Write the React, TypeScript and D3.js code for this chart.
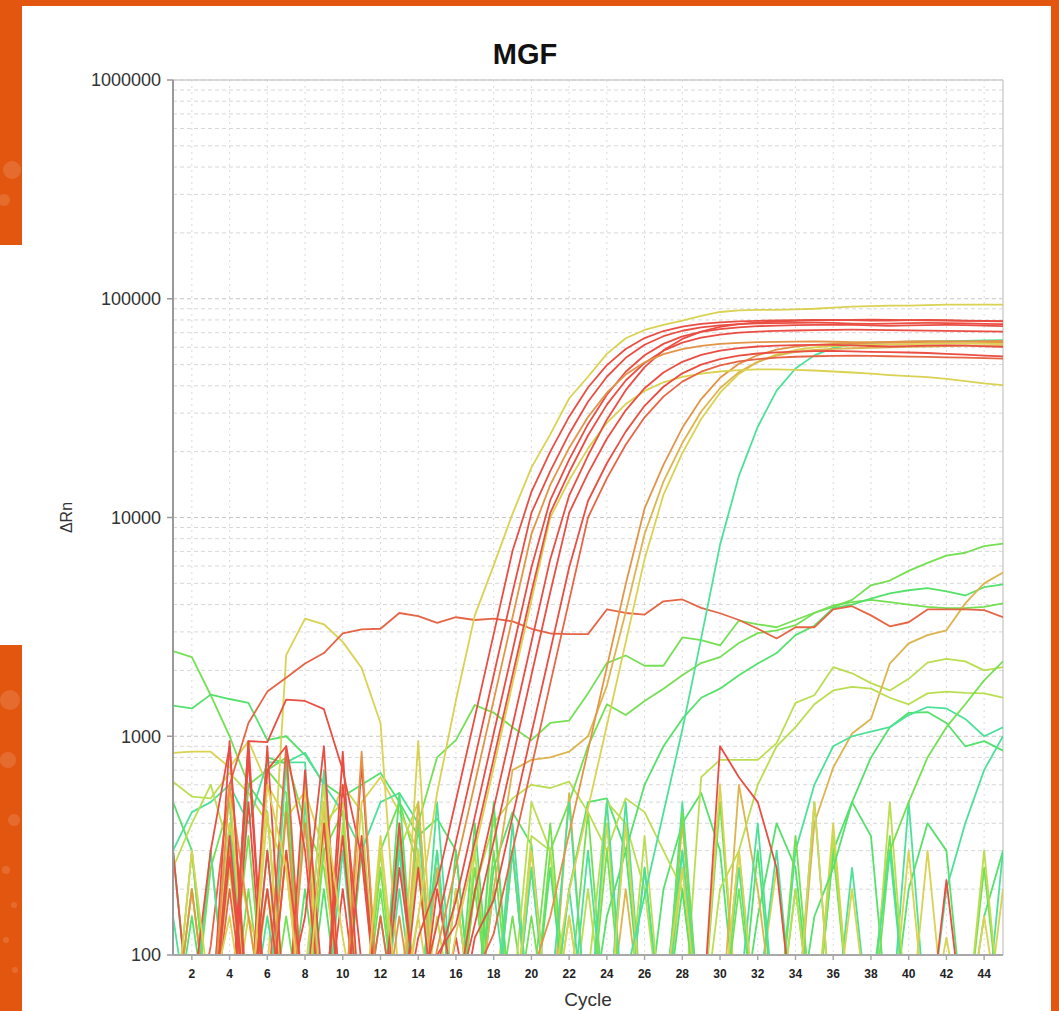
import React from "react";
import * as d3 from "d3";

// cycle numbers on the x axis
const cycles = [
  1, 2, 3, 4, 5, 6, 7, 8, 9, 10, 11, 12, 13, 14, 15, 16, 17, 18, 19, 20, 21, 22, 23,
  24, 25, 26, 27, 28, 29, 30, 31, 32, 33, 34, 35, 36, 37, 38, 39, 40, 41, 42, 43, 44, 45,
];
const xTicks = [2, 4, 6, 8, 10, 12, 14, 16, 18, 20, 22, 24, 26, 28, 30, 32, 34, 36, 38, 40, 42, 44];
const yTicks = [100, 1000, 10000, 100000, 1000000];
const yTickLabels = ["100", "1000", "10000", "100000", "1000000"];

// amplified wells (delta Rn per cycle)
const ampYellowTop = [
  40, 300, 60, 150, 40, 600, 250, 40, 500, 120, 40, 350, 50, 150, 550,
  1460, 3570, 6040, 10400, 16900, 24000, 35000, 44000, 56000, 66000, 72000, 76000, 79500, 83500, 87000,
  88500, 89000, 89000, 89500, 90000, 91000, 92000, 92500, 93000, 93000, 93500, 94000, 94000, 94000, 94000,
];
const ampRedA = [
  40, 60, 300, 900, 50, 200, 40, 700, 60, 350, 40, 80, 40, 120, 213,
  510, 1220, 2930, 7040, 13100, 20000, 28900, 39300, 49700, 58900, 66100, 71200, 74600, 76700, 78000,
  78800, 79300, 79600, 79800, 80000, 80000, 79800, 79500, 79500, 79800, 80000, 79800, 79500, 79200, 79000,
];
const ampRedB = [
  50, 40, 70, 40, 950, 40, 300, 60, 40, 600, 90, 40, 250, 60, 138,
  330, 790, 1900, 4550, 10500, 16300, 24100, 33800, 44000, 53700, 61600, 67400, 71400, 74000, 75600,
  76500, 77100, 77400, 77600, 77700, 77500, 77000, 76800, 77000, 77300, 77500, 77400, 77100, 76800, 76500,
];
const ampOrangeA = [
  40, 200, 40, 600, 150, 40, 450, 40, 80, 40, 850, 40, 150, 40, 106,
  254, 608, 1460, 3500, 8390, 14100, 20800, 28800, 37200, 45000, 51200, 55800, 58900, 60900, 62200,
  62900, 63300, 63500, 63700, 63800, 63600, 63400, 63300, 63500, 63800, 64000, 63900, 63700, 63500, 63300,
];
const ampRedC = [
  300, 40, 50, 40, 500, 40, 60, 150, 900, 40, 60, 40, 400, 40, 90,
  178, 428, 1030, 2460, 5910, 12000, 18400, 26700, 36400, 46400, 55200, 62200, 67300, 70600, 72700,
  74000, 74900, 75400, 75800, 76000, 76200, 76000, 75600, 75200, 75500, 75800, 75900, 75700, 75300, 75000,
];
const ampRedD = [
  40, 100, 40, 350, 40, 700, 900, 300, 40, 200, 40, 60, 40, 250, 40,
  60, 195, 468, 1120, 2690, 6450, 12600, 19200, 28000, 38200, 48700, 58100, 65500, 70800, 74300,
  76500, 77900, 78700, 79200, 79600, 79800, 80000, 80200, 80100, 79800, 79600, 79400, 79200, 79000, 78800,
];
const ampRedE = [
  60, 40, 40, 950, 40, 300, 40, 80, 40, 850, 40, 60, 40, 40, 200,
  60, 138, 330, 790, 1900, 4550, 10500, 15900, 22900, 30900, 39000, 46000, 51500, 55400, 57900,
  59500, 60500, 61100, 61400, 61600, 61500, 61200, 60800, 60500, 60700, 61000, 61200, 61000, 60600, 60300,
];
const ampRedF = [
  40, 60, 40, 40, 800, 40, 100, 40, 60, 40, 350, 40, 90, 40, 60,
  40, 120, 178, 428, 1030, 2460, 5910, 11900, 17700, 24700, 32400, 39600, 45600, 50000, 53000,
  54900, 56200, 56900, 57300, 57600, 57800, 57500, 57200, 57000, 56800, 56500, 56000, 55500, 55000, 54500,
];
const ampOrangeRed = [
  90, 40, 40, 200, 40, 60, 900, 40, 80, 40, 40, 150, 40, 60, 40,
  50, 80, 125, 300, 720, 1740, 4170, 10000, 15100, 21500, 28700, 35700, 41800, 46400, 49600,
  51700, 53000, 53800, 54300, 54600, 54800, 55000, 54800, 54600, 54400, 54200, 54000, 53800, 53500, 53200,
];
const ampYellowLow = [
  40, 80, 40, 600, 40, 450, 40, 80, 600, 40, 40, 70, 40, 150, 40,
  125, 300, 720, 1740, 4170, 10000, 14800, 20700, 27100, 33000, 37900, 41500, 43900, 45500, 46500,
  47200, 47500, 47500, 47300, 47000, 46500, 46000, 45500, 44800, 44300, 43800, 43000, 42000, 41000, 40300,
];
const ampRedG = [
  40, 50, 40, 280, 40, 900, 40, 60, 400, 40, 750, 40, 60, 40, 100,
  138, 330, 790, 1900, 4550, 10500, 16100, 23700, 32800, 42300, 50900, 57900, 63000, 66400, 68600,
  70000, 70800, 71300, 71600, 71800, 72000, 72200, 72100, 71900, 71700, 71500, 71300, 71100, 70900, 70700,
];
const lateOrange = [
  40, 60, 40, 300, 40, 80, 40, 400, 40, 100, 40, 60, 40, 40, 90,
  40, 50, 40, 60, 80, 150, 360, 862, 2070, 4960, 11000, 17400, 25700, 34800, 43500,
  50400, 55300, 58500, 60400, 61500, 62200, 62600, 62800, 63000, 63200, 63500, 63600, 63800, 64000, 64200,
];
const lateYellowA = [
  40, 40, 100, 40, 60, 40, 300, 40, 80, 40, 40, 60, 40, 500, 40,
  80, 40, 200, 700, 780, 800, 850, 1000, 1700, 3700, 8400, 14600, 21900, 30500, 39000,
  46200, 51500, 55000, 57100, 58300, 59000, 59400, 59700, 60000, 60200, 60500, 60700, 61000, 61200, 61400,
];
const lateYellowB = [
  40, 80, 40, 40, 150, 40, 40, 600, 40, 40, 90, 40, 40, 950, 40,
  60, 40, 40, 70, 40, 60, 195, 468, 1120, 2690, 6450, 12700, 19700, 28200, 37200,
  45300, 51500, 55700, 58300, 59900, 60800, 61300, 61600, 61800, 62000, 62200, 62300, 62400, 62500, 62600,
];
const lateGreen = [
  60, 40, 300, 40, 40, 150, 40, 500, 40, 40, 80, 40, 300, 40, 40,
  60, 40, 200, 40, 40, 60, 500, 40, 40, 80, 186, 447, 1070, 2800, 7500,
  15500, 26000, 38000, 48000, 55100, 59600, 61900, 62800, 63300, 63600, 63800, 64000, 64200, 64500, 64700,
];

// non-amplified / background wells
const driftRed = [
  40, 40, 110, 600, 1150, 1600, 1850, 2150, 2400, 2950, 3080, 3100, 3660, 3540, 3300,
  3500, 3400, 3450, 3350, 3100, 2950, 2930, 2930, 3800, 3660, 3600, 4140, 4220, 3860, 3650,
  3400, 3100, 2800, 3150, 3150, 3800, 3930, 3570, 3180, 3320, 3800, 3800, 3800, 3770, 3500,
];
const humpYellow = [
  40, 200, 40, 400, 150, 80, 2350, 3450, 3250, 2700, 2050, 1150, 70, 300, 40,
  200, 40, 60, 40, 300, 40, 150, 40, 40, 400, 40, 60, 250, 40, 40,
  300, 40, 60, 40, 500, 40, 200, 40, 60, 40, 300, 40, 40, 150, 40,
];
const highStartGreen = [
  2450, 2300, 1540, 1000, 600, 700, 800, 400, 250, 60, 40, 300, 500, 250, 40,
  60, 40, 300, 40, 150, 40, 60, 450, 40, 40, 250, 40, 60, 40, 500,
  40, 60, 40, 200, 40, 300, 40, 60, 350, 40, 40, 80, 40, 250, 40,
];
const midStartGreen = [
  1380, 1340, 1550, 1480, 1420, 960, 1000, 820, 610, 530, 600, 680, 500, 350, 420,
  300, 40, 250, 450, 320, 40, 200, 500, 520, 300, 40, 200, 400, 550, 300,
  40, 150, 400, 250, 40, 300, 500, 350, 40, 200, 400, 300, 40, 150, 300,
];
const humpRed = [
  40, 40, 60, 40, 950, 940, 1470, 1450, 1330, 700, 280, 40, 60, 40, 40,
  120, 40, 60, 40, 40, 100, 40, 40, 60, 40, 40, 40, 40, 40, 900,
  650, 500, 250, 40, 40, 40, 60, 40, 40, 40, 40, 220, 40, 40, 40,
];
const flatYellow = [
  840, 850, 850, 720, 950, 600, 420, 560, 300, 40, 500, 650, 450, 300, 40,
  200, 40, 60, 300, 40, 40, 150, 40, 400, 40, 60, 40, 250, 40, 600,
  40, 60, 250, 40, 40, 400, 40, 60, 40, 300, 40, 120, 40, 40, 200,
];
const riseYellowGreen = [
  620, 530, 520, 680, 550, 400, 250, 40, 350, 600, 450, 40, 300, 500, 40,
  80, 40, 450, 40, 350, 300, 40, 80, 500, 400, 200, 40, 40, 650, 780,
  780, 780, 930, 1420, 1540, 2070, 1940, 1750, 1620, 1830, 2170, 2260, 2200, 2000, 2070,
];
const riseGreenA = [
  300, 40, 250, 500, 40, 700, 550, 40, 300, 450, 40, 200, 40, 400, 800,
  960, 1390, 1280, 1100, 960, 1150, 1180, 1570, 2160, 2340, 2100, 2100, 2830, 2750, 2600,
  3380, 3250, 3150, 3400, 3670, 3960, 4100, 4200, 4100, 4000, 3900, 3850, 3850, 3900, 4050,
];
const riseGreenB = [
  40, 200, 40, 60, 350, 40, 150, 40, 500, 40, 40, 250, 40, 60, 300,
  40, 200, 40, 150, 40, 300, 500, 900, 1400, 1250, 1450, 1650, 1900, 2160, 2300,
  2670, 2960, 3050, 3220, 3660, 3900, 4200, 4900, 5150, 5700, 6200, 6700, 6900, 7400, 7600,
];
const riseGreenC = [
  500, 300, 40, 40, 600, 450, 40, 200, 40, 40, 300, 40, 550, 40, 80,
  40, 400, 40, 40, 250, 40, 60, 40, 150, 300, 600, 900, 1200, 1500, 1650,
  1900, 2150, 2400, 2900, 3200, 3850, 4000, 4260, 4500, 4650, 4750, 4600, 4400, 4800, 4950,
];
const riseOrangeLate = [
  40, 40, 300, 40, 60, 200, 40, 40, 500, 40, 40, 100, 40, 40, 250,
  40, 60, 40, 300, 40, 40, 550, 40, 40, 200, 40, 40, 400, 40, 40,
  600, 200, 40, 40, 400, 720, 1030, 1200, 2150, 2660, 2900, 3050, 4050, 5000, 5600,
];
const riseYellowGreenB = [
  250, 400, 600, 300, 40, 200, 40, 60, 400, 500, 40, 300, 40, 40, 150,
  40, 300, 40, 60, 500, 300, 40, 200, 40, 40, 350, 40, 60, 40, 200,
  300, 600, 900, 1100, 1400, 1620, 1680, 1650, 1500, 1400, 1570, 1600, 1580, 1570, 1500,
];
const lateGreenD = [
  40, 150, 40, 300, 40, 800, 750, 40, 200, 40, 60, 40, 350, 40, 40,
  300, 40, 500, 40, 40, 250, 40, 60, 40, 400, 40, 40, 200, 40, 60,
  40, 300, 40, 40, 150, 250, 500, 800, 1100, 1280, 1290, 1150, 900, 950, 860,
];
const lateTealA = [
  150, 40, 60, 400, 40, 40, 760, 760, 40, 300, 40, 40, 200, 40, 500,
  40, 60, 40, 300, 40, 40, 200, 40, 500, 40, 40, 60, 300, 40, 40,
  250, 40, 40, 300, 600, 900, 1000, 1050, 1100, 1250, 1360, 1340, 1200, 1000, 1100,
];
const lateGreenE = [
  40, 300, 40, 40, 200, 40, 500, 40, 40, 80, 40, 40, 400, 40, 60,
  40, 250, 40, 40, 60, 400, 40, 40, 300, 40, 60, 40, 450, 40, 40,
  200, 40, 40, 350, 40, 60, 40, 40, 300, 500, 800, 1100, 1400, 1800, 2200,
];
const lateTealB = [
  300, 40, 40, 100, 40, 300, 40, 60, 700, 40, 40, 150, 40, 40, 300,
  40, 40, 60, 40, 250, 40, 40, 60, 40, 500, 40, 40, 300, 40, 40,
  60, 400, 40, 40, 500, 40, 40, 60, 300, 40, 40, 200, 400, 700, 1000,
];
const earlyGreen = [
  300, 450, 500, 600, 400, 760, 760, 840, 600, 450, 300, 500, 550, 400, 40,
  200, 40, 40, 400, 40, 60, 40, 300, 40, 40, 250, 40, 500, 40, 40,
  40, 60, 300, 40, 40, 40, 250, 40, 40, 500, 40, 40, 60, 40, 300,
];
const wanderYellowGreen = [
  40, 60, 40, 250, 40, 40, 300, 40, 40, 400, 40, 60, 40, 300, 40,
  40, 200, 400, 520, 600, 580, 620, 450, 300, 520, 450, 300, 200, 40, 40,
  300, 40, 40, 200, 40, 350, 40, 40, 500, 40, 40, 60, 40, 300, 40,
];

const RED = "#e8362a";
const RED2 = "#e4502c";
const ORANGE = "#e0862e";
const YORANGE = "#d9aa36";
const YELLOW = "#d6cc3a";
const YGREEN = "#b2da3a";
const GREEN = "#62dc3c";
const GREEN2 = "#3ede58";
const TEAL = "#34de8c";

const backgroundSeries = [
  { values: highStartGreen, color: GREEN },
  { values: midStartGreen, color: GREEN2 },
  { values: flatYellow, color: YELLOW },
  { values: riseYellowGreen, color: YGREEN },
  { values: earlyGreen, color: TEAL },
  { values: wanderYellowGreen, color: YGREEN },
  { values: riseGreenA, color: GREEN },
  { values: riseGreenB, color: GREEN },
  { values: riseGreenC, color: GREEN2 },
  { values: riseOrangeLate, color: YORANGE },
  { values: riseYellowGreenB, color: YGREEN },
  { values: lateGreenD, color: GREEN2 },
  { values: lateTealA, color: TEAL },
  { values: lateGreenE, color: GREEN },
  { values: lateTealB, color: TEAL },
  { values: humpYellow, color: YELLOW },
  { values: humpRed, color: RED },
  { values: driftRed, color: RED2 },
];

const amplifiedSeries = [
  { values: lateGreen, color: TEAL },
  { values: lateYellowB, color: YELLOW },
  { values: lateYellowA, color: YORANGE },
  { values: lateOrange, color: ORANGE },
  { values: ampYellowLow, color: YELLOW },
  { values: ampOrangeRed, color: RED2 },
  { values: ampRedF, color: RED },
  { values: ampRedE, color: RED },
  { values: ampRedG, color: RED },
  { values: ampRedD, color: RED },
  { values: ampRedC, color: RED },
  { values: ampOrangeA, color: ORANGE },
  { values: ampRedB, color: RED },
  { values: ampRedA, color: RED },
  { values: ampYellowTop, color: YELLOW },
];

const W = 1059;
const H = 1011;
const M = { left: 173, right: 1003, top: 80, bottom: 955 };
const FONT = "'Liberation Sans', Arial, sans-serif";

export default function App() {
  const x = d3.scaleLinear().domain([1, 45]).range([M.left, M.right]);
  const y = d3.scaleLog().domain([100, 1000000]).range([M.bottom, M.top]);
  const line = d3
    .line<number>()
    .x((_, i) => x(cycles[i]))
    .y((v) => y(v));
  const gridValues = y.ticks();

  return (
    <svg
      width={W}
      height={H}
      style={{ position: "absolute", left: 0, top: 0 }}
      fontFamily={FONT}
    >
      <defs>
        <clipPath id="plotClip">
          <rect x={M.left} y={M.top} width={M.right - M.left} height={M.bottom - M.top} />
        </clipPath>
      </defs>

      {/* page frame */}
      <rect width={W} height={H} fill="#e2560f" />
      <rect x={22} y={6} width={1029} height={H - 6} fill="#ffffff" />
      <rect x={0} y={245} width={22} height={400} fill="#ffffff" />
      <g fill="#ffffff" opacity={0.13}>
        <circle cx={12} cy={170} r={9} />
        <circle cx={4} cy={200} r={6} />
        <circle cx={10} cy={700} r={10} />
        <circle cx={8} cy={760} r={8} />
        <circle cx={14} cy={820} r={6} />
        <circle cx={6} cy={870} r={4} />
        <circle cx={14} cy={905} r={3} />
        <circle cx={6} cy={940} r={3} />
        <circle cx={15} cy={970} r={3} />
      </g>

      {/* grid */}
      <g>
        {gridValues.map((v) => (
          <line
            key={"gy" + v}
            x1={M.left}
            x2={M.right}
            y1={y(v)}
            y2={y(v)}
            stroke={yTicks.includes(v) ? "#c6c6c6" : "#d8d8d8"}
            strokeDasharray="4,3"
          />
        ))}
        {xTicks.map((c) => (
          <line
            key={"gx" + c}
            x1={x(c)}
            x2={x(c)}
            y1={M.top}
            y2={M.bottom}
            stroke="#dadada"
            strokeDasharray="2,4"
          />
        ))}
      </g>

      {/* border */}
      <line x1={M.left} x2={M.right} y1={M.top} y2={M.top} stroke="#cfcfcf" strokeWidth={1.5} />
      <line x1={M.right} x2={M.right} y1={M.top} y2={M.bottom} stroke="#cfcfcf" strokeWidth={1.5} />

      {/* data */}
      <g clipPath="url(#plotClip)" fill="none" strokeWidth={1.8} strokeLinejoin="round" opacity={0.88}>
        {backgroundSeries.map((s, i) => (
          <path key={"b" + i} d={line(s.values) || ""} stroke={s.color} />
        ))}
        {amplifiedSeries.map((s, i) => (
          <path key={"a" + i} d={line(s.values) || ""} stroke={s.color} />
        ))}
      </g>

      {/* axes */}
      <line x1={M.left} x2={M.left} y1={M.top} y2={M.bottom} stroke="#9a9a9a" strokeWidth={2} />
      <line x1={M.left} x2={M.right} y1={M.bottom} y2={M.bottom} stroke="#a8a8a8" strokeWidth={2} />
      {yTicks.map((v, i) => (
        <g key={"yt" + v}>
          <line x1={M.left - 6} x2={M.left} y1={y(v)} y2={y(v)} stroke="#9a9a9a" strokeWidth={1.5} />
          <text
            x={M.left - 12}
            y={y(v)}
            dy="0.36em"
            textAnchor="end"
            fontSize={18}
            fill="#333"
          >
            {yTickLabels[i]}
          </text>
        </g>
      ))}
      {xTicks.map((c) => (
        <g key={"xt" + c}>
          <line x1={x(c)} x2={x(c)} y1={M.bottom} y2={M.bottom + 5} stroke="#a8a8a8" strokeWidth={1.5} />
          <text
            x={x(c)}
            y={M.bottom + 23}
            textAnchor="middle"
            fontSize={12}
            fontWeight="bold"
            fill="#222"
          >
            {c}
          </text>
        </g>
      ))}

      {/* labels */}
      <text x={525} y={64} textAnchor="middle" fontSize={29} fontWeight="bold" fill="#111">
        MGF
      </text>
      <text
        transform={`translate(72, ${(M.top + M.bottom) / 2}) rotate(-90)`}
        textAnchor="middle"
        fontSize={16}
        fill="#333"
      >
        ΔRn
      </text>
      <text x={(M.left + M.right) / 2} y={1006} textAnchor="middle" fontSize={19} fill="#333">
        Cycle
      </text>
    </svg>
  );
}
